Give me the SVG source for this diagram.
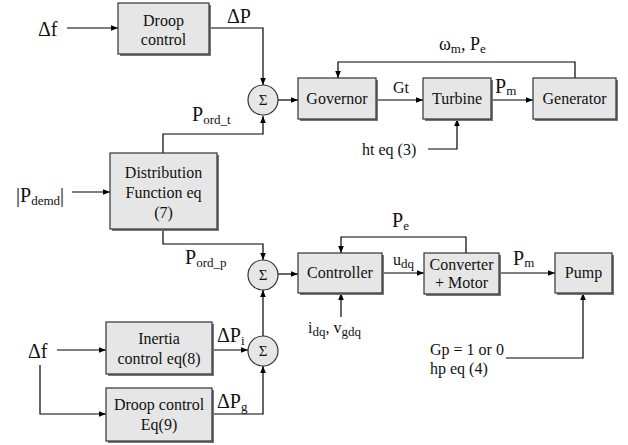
<svg xmlns="http://www.w3.org/2000/svg" width="628" height="445" viewBox="0 0 628 445">
<defs>
<marker id="ah" viewBox="0 0 10 10" refX="10" refY="5" markerWidth="7" markerHeight="7" markerUnits="userSpaceOnUse" orient="auto">
<path d="M0,1 L10,5 L0,9 z" fill="#000"/>
</marker>
</defs>
<style>
text{fill:#111;font-family:Liberation Serif, Tinos, DejaVu Serif, serif}
.bt{font-size:16px;text-anchor:middle}
.lb{font-size:16px}
.bg{font-size:20px}
.sm{font-size:13px}
.sg{font-size:15px;text-anchor:middle}
.box{fill:#e6e6e6;stroke:#333;stroke-width:1.2}
.sh{fill:#777}
.sum{fill:#e6e6e6;stroke:#333;stroke-width:1.2}
.ln{fill:none;stroke:#000;stroke-width:1.2;marker-end:url(#ah)}
</style>
<rect width="628" height="445" fill="#fff"/>

<g id="connectors">
<path class="ln" d="M67,28 H118"/>
<path class="ln" d="M209,28 H263 V85"/>
<path class="ln" d="M278,100 H298"/>
<path class="ln" d="M376,100 H423"/>
<path class="ln" d="M491,100 H533"/>
<path class="ln" d="M575,78 V62 H338 V78"/>
<path class="ln" d="M428,149 H457 V119"/>
<path class="ln" d="M163,153 V134 H263 V116"/>
<path class="ln" d="M72,192 H110"/>
<path class="ln" d="M163,229 V244 H263 V260"/>
<path class="ln" d="M278,274 H298"/>
<path class="ln" d="M382,273 H424"/>
<path class="ln" d="M499,273 H555"/>
<path class="ln" d="M466,253 V237 H341 V253"/>
<path class="ln" d="M341,317 V293"/>
<path class="ln" d="M506,358 H583 V293"/>
<path class="ln" d="M263,336 V290"/>
<path class="ln" d="M57,350 H106"/>
<path class="ln" d="M40,365 V414 H106"/>
<path class="ln" d="M212,350 H248"/>
<path class="ln" d="M212,414 H263 V366"/>
</g>

<g id="droop-top">
<rect class="sh" x="120" y="5" width="91" height="51"/>
<rect class="box" x="118" y="3" width="91" height="51"/>
<text class="bt" x="163.5" y="26">Droop</text>
<text class="bt" x="163.5" y="45">control</text>
</g>

<g id="sum1">
<circle class="sum" cx="263" cy="100" r="15"/>
<text class="sg" x="263" y="105">Σ</text>
</g>

<g id="governor">
<rect class="sh" x="300" y="80" width="78" height="41"/>
<rect class="box" x="298" y="78" width="78" height="41"/>
<text class="bt" x="337" y="104">Governor</text>
</g>

<g id="turbine">
<rect class="sh" x="425" y="80" width="68" height="41"/>
<rect class="box" x="423" y="78" width="68" height="41"/>
<text class="bt" x="457" y="104">Turbine</text>
</g>

<g id="generator">
<rect class="sh" x="535" y="80" width="83" height="41"/>
<rect class="box" x="533" y="78" width="83" height="41"/>
<text class="bt" x="574.5" y="104">Generator</text>
</g>

<g id="distribution">
<rect class="sh" x="112" y="155" width="107" height="76"/>
<rect class="box" x="110" y="153" width="107" height="76"/>
<text class="bt" x="163.5" y="178">Distribution</text>
<text class="bt" x="163.5" y="198">Function eq</text>
<text class="bt" x="163.5" y="218">(7)</text>
</g>

<g id="sum2">
<circle class="sum" cx="263" cy="275" r="15"/>
<text class="sg" x="263" y="280">Σ</text>
</g>

<g id="controller">
<rect class="sh" x="300" y="255" width="84" height="40"/>
<rect class="box" x="298" y="253" width="84" height="40"/>
<text class="bt" x="340" y="278">Controller</text>
</g>

<g id="converter">
<rect class="sh" x="426" y="255" width="75" height="41"/>
<rect class="box" x="424" y="253" width="75" height="41"/>
<text class="bt" x="461.5" y="270">Converter</text>
<text class="bt" x="461.5" y="288">+ Motor</text>
</g>

<g id="pump">
<rect class="sh" x="557" y="255" width="57" height="40"/>
<rect class="box" x="555" y="253" width="57" height="40"/>
<text class="bt" x="583.5" y="278">Pump</text>
</g>

<g id="sum3">
<circle class="sum" cx="263" cy="351" r="15"/>
<text class="sg" x="263" y="356">Σ</text>
</g>

<g id="inertia">
<rect class="sh" x="108" y="324" width="106" height="52"/>
<rect class="box" x="106" y="322" width="106" height="52"/>
<text class="bt" x="159" y="344">Inertia</text>
<text class="bt" x="159" y="364">control eq(8)</text>
</g>

<g id="droop-bottom">
<rect class="sh" x="108" y="390" width="106" height="53"/>
<rect class="box" x="106" y="388" width="106" height="53"/>
<text class="bt" x="159" y="410">Droop control</text>
<text class="bt" x="159" y="430">Eq(9)</text>
</g>

<g id="labels">
<text class="bg" x="38" y="36">Δf</text>
<text class="bg" x="227" y="23">ΔP</text>
<text class="bg" x="439" y="50" style="font-size:18px">ω<tspan class="sm" dy="3">m</tspan><tspan dy="-3">, P</tspan><tspan class="sm" dy="3">e</tspan></text>
<text class="lb" x="393" y="93">Gt</text>
<text class="bg" x="495" y="93">P<tspan class="sm" dy="2">m</tspan></text>
<text class="lb" x="362" y="155">ht eq (3)</text>
<text class="bg" x="192" y="121">P<tspan class="sm" dy="3">ord_t</tspan></text>
<text class="bg" x="16" y="202">|P<tspan class="sm" dy="3">demd</tspan><tspan dy="-3">|</tspan></text>
<text class="bg" x="185" y="264">P<tspan class="sm" dy="3">ord_p</tspan></text>
<text class="bg" x="392" y="227">P<tspan class="sm" dy="3">e</tspan></text>
<text class="lb" x="393" y="265">u<tspan class="sm" dy="3">dq</tspan></text>
<text class="bg" x="513" y="265">P<tspan class="sm" dy="2">m</tspan></text>
<text class="lb" x="308" y="333">i<tspan class="sm" dy="3">dq</tspan><tspan dy="-3">, v</tspan><tspan class="sm" dy="3">gdq</tspan></text>
<text class="lb" x="430" y="355">Gp = 1 or 0</text>
<text class="lb" x="430" y="374">hp eq (4)</text>
<text class="bg" x="28" y="358">Δf</text>
<text class="bg" x="217" y="342">ΔP<tspan class="sm" dy="3">i</tspan></text>
<text class="bg" x="217" y="408">ΔP<tspan class="sm" dy="3">g</tspan></text>
</g>
</svg>
